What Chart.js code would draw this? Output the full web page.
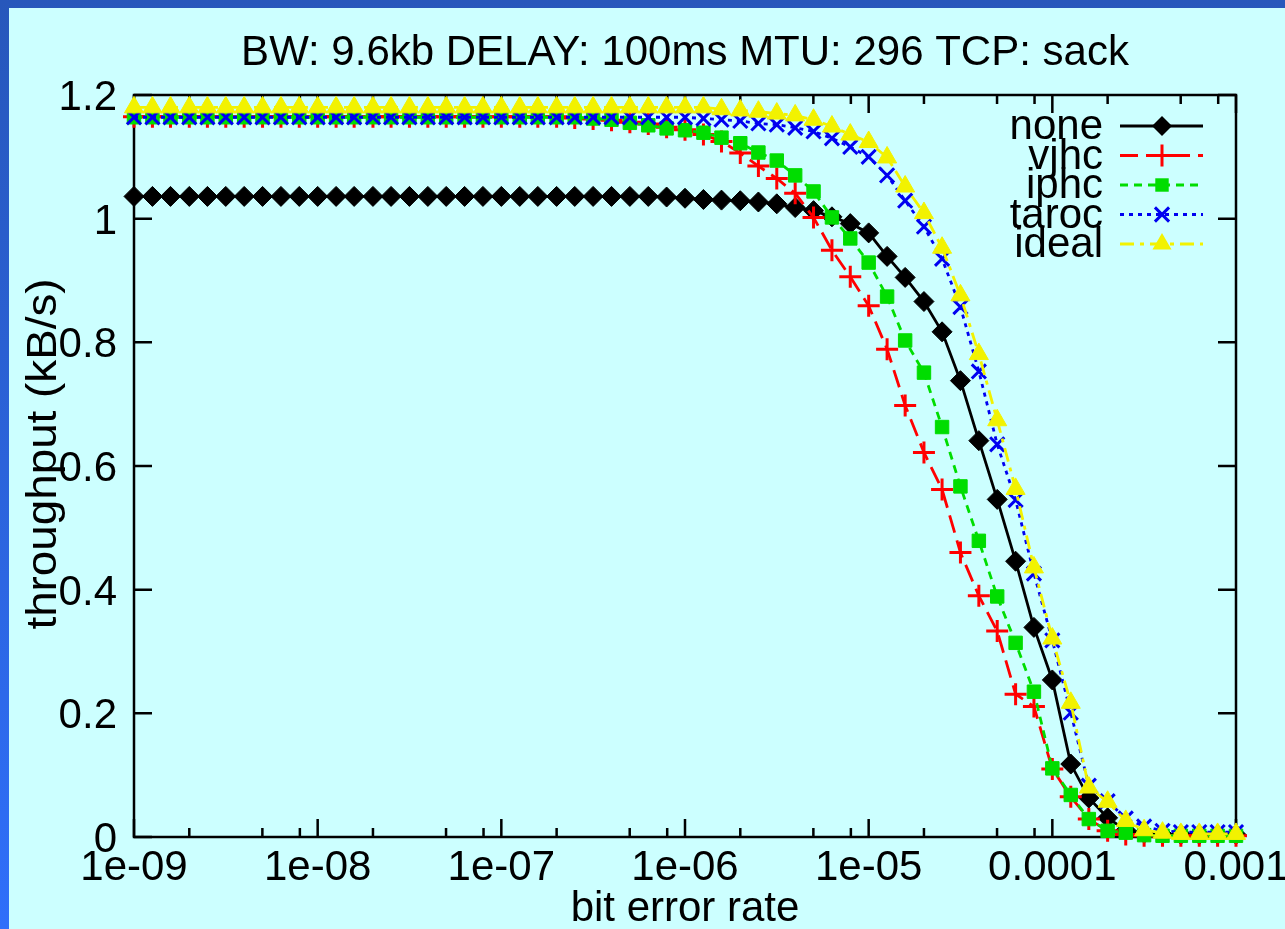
<!DOCTYPE html>
<html>
<head>
<meta charset="utf-8">
<script src="https://cdn.jsdelivr.net/npm/chart.js@4.4.1/dist/chart.umd.min.js"></script>
<style>
  html, body { margin: 0; padding: 0; }
  body {
    width: 1285px; height: 929px; overflow: hidden; position: relative;
    background: linear-gradient(to bottom, #2757bb, #2f6ffa);
  }
  #wrap { position: absolute; left: 9px; top: 8px; width: 1276px; height: 921px; background: #ccffff; }
</style>
</head>
<body>
<div id="wrap"><canvas id="chart" width="1276" height="921"></canvas></div>
<script>
// bit error rate, 10 points per decade
const ber = [
  1e-9, 1.26e-9, 1.58e-9, 2e-9, 2.51e-9, 3.16e-9, 3.98e-9, 5.01e-9, 6.31e-9, 7.94e-9,
  1e-8, 1.26e-8, 1.58e-8, 2e-8, 2.51e-8, 3.16e-8, 3.98e-8, 5.01e-8, 6.31e-8, 7.94e-8,
  1e-7, 1.26e-7, 1.58e-7, 2e-7, 2.51e-7, 3.16e-7, 3.98e-7, 5.01e-7, 6.31e-7, 7.94e-7,
  1e-6, 1.26e-6, 1.58e-6, 2e-6, 2.51e-6, 3.16e-6, 3.98e-6, 5.01e-6, 6.31e-6, 7.94e-6,
  1e-5, 1.26e-5, 1.58e-5, 2e-5, 2.51e-5, 3.16e-5, 3.98e-5, 5.01e-5, 6.31e-5, 7.94e-5,
  1e-4, 1.26e-4, 1.58e-4, 2e-4, 2.51e-4, 3.16e-4, 3.98e-4, 5.01e-4, 6.31e-4, 7.94e-4,
  1e-3
];

// throughput (kB/s)
const none = [
  1.036, 1.036, 1.036, 1.036, 1.036, 1.036, 1.036, 1.036, 1.036, 1.036,
  1.036, 1.036, 1.036, 1.036, 1.036, 1.036, 1.036, 1.036, 1.036, 1.036,
  1.036, 1.036, 1.036, 1.036, 1.036, 1.036, 1.036, 1.036, 1.036, 1.035,
  1.033, 1.031, 1.030, 1.029, 1.027, 1.024, 1.018, 1.013, 1.003, 0.992,
  0.977, 0.939, 0.905, 0.866, 0.817, 0.738, 0.641, 0.546, 0.446, 0.339,
  0.254, 0.118, 0.063, 0.031, 0.011, 0.006, 0.004, 0.004, 0.004, 0.004,
  0.004
];
const vjhc = [
  1.165, 1.165, 1.165, 1.165, 1.165, 1.165, 1.165, 1.165, 1.165, 1.165,
  1.165, 1.165, 1.165, 1.165, 1.165, 1.165, 1.165, 1.165, 1.165, 1.165,
  1.165, 1.165, 1.165, 1.165, 1.163, 1.161, 1.159, 1.156, 1.153, 1.148,
  1.144, 1.136, 1.125, 1.106, 1.085, 1.065, 1.041, 1.002, 0.949, 0.906,
  0.859, 0.789, 0.698, 0.622, 0.562, 0.460, 0.390, 0.333, 0.231, 0.211,
  0.110, 0.065, 0.029, 0.010, 0.004, 0.002, 0.002, 0.002, 0.002, 0.002,
  0.002
];
const iphc = [
  1.164, 1.164, 1.164, 1.164, 1.164, 1.164, 1.164, 1.164, 1.164, 1.164,
  1.164, 1.164, 1.164, 1.164, 1.164, 1.164, 1.164, 1.164, 1.164, 1.164,
  1.164, 1.164, 1.164, 1.164, 1.164, 1.162, 1.160, 1.155, 1.151, 1.146,
  1.143, 1.139, 1.131, 1.122, 1.107, 1.094, 1.070, 1.044, 1.002, 0.968,
  0.929, 0.874, 0.803, 0.751, 0.663, 0.567, 0.479, 0.389, 0.314, 0.235,
  0.111, 0.068, 0.029, 0.010, 0.007, 0.003, 0.002, 0.002, 0.002, 0.002,
  0.002
];
const taroc = [
  1.164, 1.164, 1.164, 1.164, 1.164, 1.164, 1.164, 1.164, 1.164, 1.164,
  1.164, 1.164, 1.164, 1.164, 1.164, 1.164, 1.164, 1.164, 1.164, 1.164,
  1.164, 1.164, 1.164, 1.164, 1.164, 1.164, 1.164, 1.164, 1.164, 1.164,
  1.164, 1.162, 1.160, 1.158, 1.154, 1.152, 1.147, 1.141, 1.130, 1.116,
  1.100, 1.070, 1.029, 0.987, 0.935, 0.857, 0.753, 0.635, 0.545, 0.426,
  0.318, 0.201, 0.083, 0.058, 0.030, 0.017, 0.010, 0.008, 0.008, 0.008,
  0.008
];
const ideal = [
  1.180, 1.180, 1.180, 1.180, 1.180, 1.180, 1.180, 1.180, 1.180, 1.180,
  1.180, 1.180, 1.180, 1.180, 1.180, 1.180, 1.180, 1.180, 1.180, 1.180,
  1.180, 1.180, 1.180, 1.180, 1.180, 1.180, 1.180, 1.180, 1.180, 1.180,
  1.180, 1.180, 1.177, 1.175, 1.173, 1.170, 1.167, 1.160, 1.149, 1.136,
  1.124, 1.099, 1.052, 1.009, 0.953, 0.876, 0.781, 0.674, 0.563, 0.436,
  0.321, 0.217, 0.080, 0.057, 0.026, 0.011, 0.007, 0.005, 0.005, 0.005,
  0.005
];

const yTicks = [0, 0.2, 0.4, 0.6, 0.8, 1, 1.2];
const yTickLabels = ['0', '0.2', '0.4', '0.6', '0.8', '1', '1.2'];
const xTicks = [1e-9, 1e-8, 1e-7, 1e-6, 1e-5, 1e-4, 1e-3];
const xTickLabels = ['1e-09', '1e-08', '1e-07', '1e-06', '1e-05', '0.0001', '0.001'];
const xMinor = [2, 5, 8];

const FONT = '42px "Liberation Sans", Arial, sans-serif';

const series = [
  { label: 'none',  values: none,  color: '#000000', dash: [],            style: 'rectRot',  r: 10 },
  { label: 'vjhc',  values: vjhc,  color: '#ff0000', dash: [18, 8],       style: 'cross',    r: 11 },
  { label: 'iphc',  values: iphc,  color: '#00dd00', dash: [8, 6],        style: 'rect',     r: 9.5 },
  { label: 'taroc', values: taroc, color: '#0000f0', dash: [4, 5],        style: 'crossRot', r: 10 },
  { label: 'ideal', values: ideal, color: '#f2f200', dash: [14, 6, 4, 6], style: 'triangle', r: 11 }
];

function marker(ctx, style, x, y, r, color) {
  ctx.save();
  ctx.setLineDash([]);
  ctx.fillStyle = color;
  ctx.strokeStyle = color;
  ctx.lineWidth = 3;
  ctx.beginPath();
  if (style === 'rectRot') {
    ctx.moveTo(x, y - r); ctx.lineTo(x + r, y); ctx.lineTo(x, y + r); ctx.lineTo(x - r, y);
    ctx.closePath(); ctx.fill();
  } else if (style === 'rect') {
    const h = r * Math.SQRT1_2;
    ctx.rect(x - h, y - h, 2 * h, 2 * h); ctx.fill();
  } else if (style === 'triangle') {
    ctx.moveTo(x, y - r);
    ctx.lineTo(x + r * 0.866, y + r * 0.5);
    ctx.lineTo(x - r * 0.866, y + r * 0.5);
    ctx.closePath(); ctx.fill();
  } else if (style === 'cross') {
    ctx.moveTo(x - r, y); ctx.lineTo(x + r, y);
    ctx.moveTo(x, y - r); ctx.lineTo(x, y + r); ctx.stroke();
  } else if (style === 'crossRot') {
    const d = r * Math.SQRT1_2;
    ctx.moveTo(x - d, y - d); ctx.lineTo(x + d, y + d);
    ctx.moveTo(x + d, y - d); ctx.lineTo(x - d, y + d); ctx.stroke();
  }
  ctx.restore();
}

// gnuplot style frame, inward ticks, labels and key
const gnuplotFrame = {
  id: 'gnuplotFrame',
  beforeDatasetsDraw(chart) {
    const { ctx, chartArea: a } = chart;
    const xs = chart.scales.x, ys = chart.scales.y;
    ctx.save();
    ctx.strokeStyle = '#000';
    ctx.lineWidth = 2.5;
    ctx.beginPath();
    yTicks.forEach(v => {
      const py = ys.getPixelForValue(v);
      ctx.moveTo(a.left, py); ctx.lineTo(a.left + 18, py);
      ctx.moveTo(a.right, py); ctx.lineTo(a.right - 18, py);
    });
    xTicks.forEach(v => {
      const px = xs.getPixelForValue(v);
      ctx.moveTo(px, a.bottom); ctx.lineTo(px, a.bottom - 18);
      ctx.moveTo(px, a.top); ctx.lineTo(px, a.top + 18);
    });
    xTicks.slice(0, -1).forEach(v => {
      xMinor.forEach(m => {
        const px = xs.getPixelForValue(v * m);
        ctx.moveTo(px, a.bottom); ctx.lineTo(px, a.bottom - 9);
        ctx.moveTo(px, a.top); ctx.lineTo(px, a.top + 9);
      });
    });
    ctx.stroke();
    ctx.strokeRect(a.left, a.top, a.right - a.left, a.bottom - a.top);
    ctx.restore();
  },
  afterDraw(chart) {
    const { ctx, chartArea: a } = chart;
    const xs = chart.scales.x, ys = chart.scales.y;
    ctx.save();
    ctx.fillStyle = '#000';
    ctx.font = FONT;

    ctx.textAlign = 'right';
    ctx.textBaseline = 'alphabetic';
    yTicks.forEach((v, i) => {
      ctx.fillText(yTickLabels[i], a.left - 17, ys.getPixelForValue(v) + 15);
    });
    ctx.textAlign = 'center';
    xTicks.forEach((v, i) => {
      ctx.fillText(xTickLabels[i], xs.getPixelForValue(v), a.bottom + 43);
    });

    ctx.fillText('BW: 9.6kb DELAY: 100ms MTU: 296 TCP: sack', (a.left + a.right) / 2, a.top - 30);
    ctx.fillText('bit error rate', (a.left + a.right) / 2, a.bottom + 84);

    ctx.save();
    ctx.translate(a.left - 78, (a.top + a.bottom) / 2 - 12);
    ctx.rotate(-Math.PI / 2);
    ctx.scale(1.09, 1);
    ctx.fillText('throughput (kB/s)', 0, 0);
    ctx.restore();

    // key
    const rows = [31, 60.5, 90, 119.5, 149];
    series.forEach((s, i) => {
      const ry = a.top + rows[i];
      ctx.textAlign = 'right';
      ctx.fillText(s.label, a.right - 133, ry + 13);
      ctx.save();
      ctx.strokeStyle = s.color;
      ctx.lineWidth = 2.8;
      ctx.setLineDash(s.dash);
      ctx.beginPath();
      ctx.moveTo(a.right - 116, ry);
      ctx.lineTo(a.right - 33, ry);
      ctx.stroke();
      ctx.restore();
      marker(ctx, s.style, a.right - 74, ry, s.r, s.color);
    });
    ctx.restore();
  }
};

new Chart(document.getElementById('chart'), {
  type: 'line',
  data: {
    datasets: series.map((s, i) => ({
      label: s.label,
      data: ber.map((b, j) => ({ x: b, y: s.values[j] })),
      borderColor: s.color,
      backgroundColor: s.color,
      borderWidth: 2.8,
      borderDash: s.dash,
      pointStyle: s.style,
      pointRadius: s.r,
      pointBackgroundColor: s.color,
      pointBorderColor: s.color,
      pointBorderWidth: (s.style === 'cross' || s.style === 'crossRot') ? 3 : 1,
      tension: 0,
      fill: false,
      clip: false,
      order: series.length - i
    }))
  },
  options: {
    responsive: false,
    animation: false,
    events: [],
    layout: { padding: { left: 125, top: 87, right: 49, bottom: 92 } },
    plugins: { legend: { display: false }, title: { display: false }, tooltip: { enabled: false } },
    scales: {
      x: { type: 'logarithmic', min: 1e-9, max: 1e-3, display: false },
      y: { type: 'linear', min: 0, max: 1.2, display: false }
    }
  },
  plugins: [gnuplotFrame]
});
</script>
</body>
</html>
